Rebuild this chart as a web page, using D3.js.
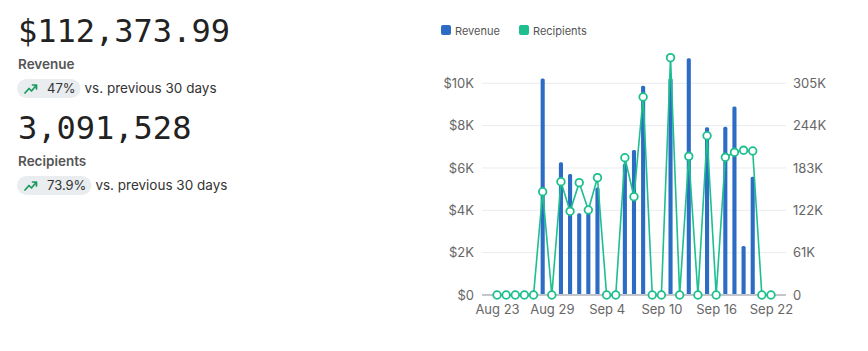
<!DOCTYPE html>
<html>
<head>
<meta charset="utf-8">
<script src="https://cdn.jsdelivr.net/npm/d3@7"></script>
<style>
  body { margin: 0; background: #fff; }
  svg { display: block; }
  text { font-family: "Inter", "Roboto", sans-serif; }
</style>
</head>
<body>
<svg id="chart" width="868" height="351"></svg>
<script>
// days shown on the x axis
let days = ["Aug 23", "Aug 24", "Aug 25", "Aug 26", "Aug 27", "Aug 28", "Aug 29", "Aug 30", "Aug 31",
  "Sep 1", "Sep 2", "Sep 3", "Sep 4", "Sep 5", "Sep 6", "Sep 7", "Sep 8", "Sep 9", "Sep 10",
  "Sep 11", "Sep 12", "Sep 13", "Sep 14", "Sep 15", "Sep 16", "Sep 17", "Sep 18", "Sep 19",
  "Sep 20", "Sep 21", "Sep 22"];
let x_tick_labels = ["Aug 23", "Aug 29", "Sep 4", "Sep 10", "Sep 16", "Sep 22"];

let revenue = [0, 0, 0, 0, 0, 10230, 0, 6270, 5720, 3860, 3900, 5080, 0, 0, 6200, 6850, 9890,
  0, 0, 10240, 0, 11180, 0, 7920, 0, 7950, 8900, 2320, 5590, 0, 0];
let recipients = [0, 0, 0, 0, 0, 148800, 0, 163200, 120600, 161800, 122500, 169000, 0, 0, 197800,
  141600, 285300, 0, 0, 341900, 0, 199800, 0, 229500, 0, 198400, 205600, 208500, 207500, 0, 0];

let revenue_ticks = [0, 2000, 4000, 6000, 8000, 10000];
let recipient_ticks = [0, 61000, 122000, 183000, 244000, 305000];

let legend_items = ["Revenue", "Recipients"];

// summary cards
let summary = [
  {value: "$112,373.99", label: "Revenue", change: "47%"},
  {value: "3,091,528", label: "Recipients", change: "73.9%"}
];

let blue = "#2d6cc4";
let green = "#1dbf8e";

let svg = d3.select("#chart");

// ---------- left summary ----------
let card_y = [42, 139];
summary.forEach((d, i) => {
  let g = svg.append("g").attr("transform", "translate(0," + card_y[i] + ")");
  g.append("text").attr("x", 18).attr("y", 0)
    .style("font-family", "'DejaVu Sans Mono', monospace")
    .style("font-size", "32px").attr("fill", "#222").text(d.value);
  g.append("text").attr("x", 18).attr("y", 27)
    .style("font-size", "13.5px").style("font-weight", 600).attr("fill", "#555").text(d.label);

  let pill = g.append("g").attr("transform", "translate(17,37)");
  let label = pill.append("text").attr("x", 30).attr("y", 13.5)
    .style("font-size", "13px").attr("fill", "#333").text(d.change);
  let w = label.node().getComputedTextLength();
  pill.insert("rect", "text").attr("width", 30 + w + 5).attr("height", 19).attr("rx", 9.5)
    .attr("fill", "#e9edf0");
  pill.append("path").attr("d", "M8 14 L12 9.5 L14.5 12 L19 6.5 M15.5 6 H19.5 V10")
    .attr("fill", "none").attr("stroke", "#1a9a5c").attr("stroke-width", 1.7)
    .attr("stroke-linecap", "round").attr("stroke-linejoin", "round");
  g.append("text").attr("x", 17 + 30 + w + 5 + 4).attr("y", 50.5)
    .style("font-size", "13.5px").attr("fill", "#333").text("vs. previous 30 days");
});

// ---------- chart ----------
let x0 = 482, x1 = 786, y_base = 295, y_top = 83.3;

let x = d3.scaleBand().domain(days).range([x0, x1]).paddingInner(0.55).paddingOuter(1.42);
let y_left = d3.scaleLinear().domain([0, 10000]).range([y_base, y_top]);
let y_right = d3.scaleLinear().domain([0, 305000]).range([y_base, y_top]);

// grid
svg.append("g").selectAll("line").data(revenue_ticks.slice(1)).enter().append("line")
  .attr("x1", x0).attr("x2", x1)
  .attr("y1", d => y_left(d)).attr("y2", d => y_left(d))
  .attr("stroke", "#e9ecef").attr("stroke-width", 1);

// left axis
let left_axis = d3.axisLeft(y_left).tickValues(revenue_ticks).tickSize(0).tickPadding(0)
  .tickFormat(d => d == 0 ? "$0" : "$" + d / 1000 + "K");
let gl = svg.append("g").attr("transform", "translate(474,0)").call(left_axis);
gl.select(".domain").remove();
gl.selectAll("text").style("font-size", "13px").attr("fill", "#666")
  .style("font-family", "Inter, Roboto, sans-serif");

// right axis
let right_axis = d3.axisRight(y_right).tickValues(recipient_ticks).tickSize(0).tickPadding(0)
  .tickFormat(d => d == 0 ? "0" : d / 1000 + "K");
let gr = svg.append("g").attr("transform", "translate(793,0)").call(right_axis);
gr.select(".domain").remove();
gr.selectAll("text").style("font-size", "13px").attr("fill", "#666")
  .style("font-family", "Inter, Roboto, sans-serif");

// bars
svg.append("g").selectAll("rect").data(revenue).enter().append("rect")
  .filter(d => d > 0)
  .attr("x", (d, i) => x(days[revenue.indexOf(d)]))
  .attr("y", d => y_left(d))
  .attr("width", x.bandwidth())
  .attr("height", d => y_base - y_left(d))
  .attr("rx", 1.5)
  .attr("fill", blue);

// baseline
svg.append("line").attr("x1", x0).attr("x2", x1).attr("y1", y_base).attr("y2", y_base)
  .attr("stroke", "#c3c7cc").attr("stroke-width", 2);

// bottom axis
let cx = d => x(d) + x.bandwidth() / 2;
let bottom_axis = d3.axisBottom(d3.scalePoint().domain(days).range([cx(days[0]), cx(days[days.length - 1])]))
  .tickValues(x_tick_labels).tickSize(0).tickPadding(0);
let gb = svg.append("g").attr("transform", "translate(0,305)").call(bottom_axis);
gb.select(".domain").remove();
gb.selectAll("text").style("font-size", "13px").attr("fill", "#666")
  .style("font-family", "Inter, Roboto, sans-serif");

// recipients line
let line = d3.line().x((d, i) => cx(days[i])).y(d => y_right(d));
svg.append("path").datum(recipients).attr("d", line)
  .attr("fill", "none").attr("stroke", green).attr("stroke-width", 1.6);
svg.append("g").selectAll("circle").data(recipients).enter().append("circle")
  .attr("cx", (d, i) => cx(days[i])).attr("cy", d => y_right(d)).attr("r", 3.8)
  .attr("fill", "#fff").attr("stroke", green).attr("stroke-width", 1.8);

// legend
let legend_x = [441, 519];
let lg = svg.append("g").selectAll("g").data(legend_items).enter().append("g")
  .attr("transform", (d, i) => "translate(" + legend_x[i] + ",25)");
lg.append("rect").attr("width", 10).attr("height", 10).attr("rx", 2)
  .attr("fill", (d, i) => i == 0 ? blue : green);
lg.append("text").attr("x", 14).attr("y", 9.5).style("font-size", "11px").attr("fill", "#555")
  .text(d => d);
</script>
</body>
</html>
